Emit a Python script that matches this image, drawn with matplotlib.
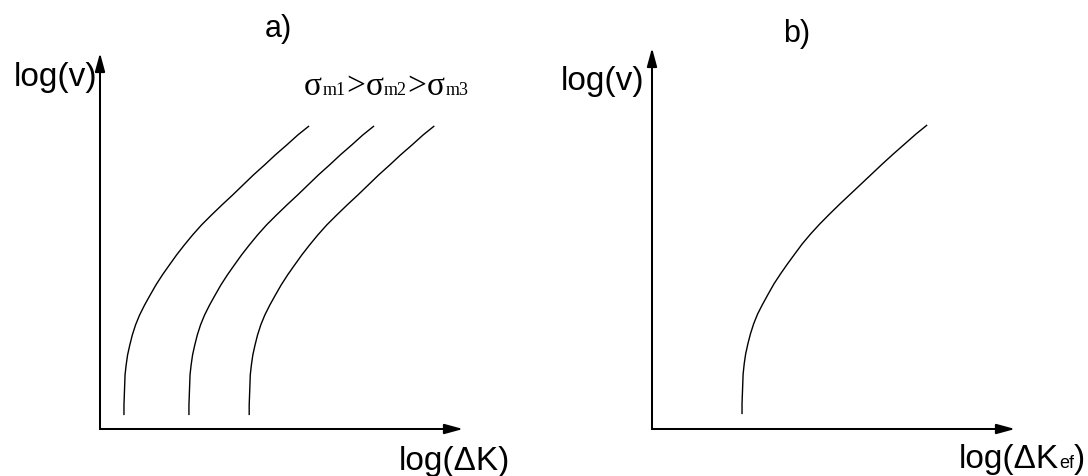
import matplotlib
matplotlib.use("Agg")
import matplotlib.pyplot as plt

# ---- Data (log units, arbitrary scale 0..10 on both axes) --------------------
# a) growth-rate curves for three mean stresses
A_LOGV = [0.37, 0.64, 0.90, 1.17, 1.44, 1.70, 1.97, 2.23, 2.50, 2.77,
          3.03, 3.30, 3.56, 3.83, 4.10, 4.36, 4.63, 4.89, 5.16, 5.43,
          5.69, 5.96, 6.22, 6.49, 6.76, 7.02, 7.29, 7.55, 7.82, 8.06]
A_LOGDK_1 = [0.66, 0.66, 0.67, 0.68, 0.69, 0.72, 0.76, 0.82, 0.89, 0.98,
             1.09, 1.23, 1.38, 1.54, 1.72, 1.91, 2.11, 2.32, 2.55, 2.80,
             3.07, 3.36, 3.65, 3.94, 4.23, 4.53, 4.83, 5.14, 5.45, 5.76]
A_LOGDK_2 = [2.45, 2.45, 2.46, 2.47, 2.48, 2.51, 2.55, 2.61, 2.68, 2.77,
             2.88, 3.02, 3.17, 3.33, 3.51, 3.70, 3.90, 4.11, 4.34, 4.59,
             4.86, 5.15, 5.44, 5.73, 6.02, 6.32, 6.62, 6.93, 7.24, 7.55]
A_LOGDK_3 = [4.11, 4.11, 4.12, 4.13, 4.14, 4.17, 4.21, 4.27, 4.34, 4.43,
             4.54, 4.68, 4.83, 4.99, 5.17, 5.36, 5.56, 5.77, 6.00, 6.25,
             6.52, 6.81, 7.10, 7.39, 7.68, 7.98, 8.28, 8.59, 8.90, 9.21]

# b) single curve against the effective range
B_LOGV = [0.39, 0.66, 0.92, 1.18, 1.44, 1.71, 1.97, 2.23, 2.49, 2.76,
          3.02, 3.28, 3.54, 3.81, 4.07, 4.33, 4.59, 4.86, 5.12, 5.38,
          5.64, 5.91, 6.17, 6.43, 6.69, 6.96, 7.22, 7.48, 7.74, 7.98]
B_LOGDK = [2.48, 2.48, 2.49, 2.50, 2.51, 2.54, 2.58, 2.64, 2.71, 2.80,
           2.91, 3.05, 3.20, 3.36, 3.54, 3.73, 3.93, 4.14, 4.37, 4.62,
           4.89, 5.18, 5.47, 5.76, 6.05, 6.35, 6.65, 6.96, 7.27, 7.58]

# ---- Figure ------------------------------------------------------------------
W, H = 1088, 476
fig = plt.figure(figsize=(W / 100, H / 100), dpi=100)
SANS = "Liberation Sans"
SERIF = "Liberation Serif"

AX_LW = 1.45
CURVE_LW = 1.0


def px(x, y):
    """pixel position (from top-left) -> figure fraction"""
    return x / W, 1 - y / H


def make_panel(left, top, right, bottom):
    x0, y0 = px(left, bottom)
    x1, y1 = px(right, top)
    ax = fig.add_axes([x0, y0, x1 - x0, y1 - y0])
    ax.set_xlim(0, 10)
    ax.set_ylim(0, 10)
    ax.axis("off")
    arrow = dict(arrowstyle="-|>,head_length=1.1,head_width=0.3",
                 color="black", lw=AX_LW, shrinkA=0, shrinkB=0,
                 mutation_scale=10, capstyle="projecting")
    ax.annotate("", xy=(1, 0), xytext=(0, 0), xycoords="axes fraction",
                textcoords="axes fraction", arrowprops=arrow)
    ax.annotate("", xy=(0, 1), xytext=(0, 0), xycoords="axes fraction",
                textcoords="axes fraction", arrowprops=arrow)
    return ax


ax_a = make_panel(100, 53, 463, 429)
ax_b = make_panel(652, 48, 1015, 429)

for xs in (A_LOGDK_1, A_LOGDK_2, A_LOGDK_3):
    ax_a.plot(xs, A_LOGV, color="black", lw=CURVE_LW, solid_capstyle="butt")
ax_b.plot(B_LOGDK, B_LOGV, color="black", lw=CURVE_LW, solid_capstyle="butt")

# ---- Labels ------------------------------------------------------------------
renderer = fig.canvas.get_renderer()


def run(x, y, pieces, gap=0.0):
    """place text pieces side by side on one baseline, starting at pixel x"""
    for s, size, fam in pieces:
        t = fig.text(*px(x, y), s, fontsize=size, family=fam,
                     ha="left", va="baseline")
        x += t.get_window_extent(renderer).width + gap


fig.text(*px(278, 37), "a)", fontsize=22, family=SANS, ha="center", va="baseline")
fig.text(*px(797, 42), "b)", fontsize=22, family=SANS, ha="center", va="baseline")

fig.text(*px(97, 86), "log(v)", fontsize=24, family=SANS, ha="right", va="baseline")
fig.text(*px(644, 90), "log(v)", fontsize=24, family=SANS, ha="right", va="baseline")

fig.text(*px(510, 470), "log(ΔK)", fontsize=24, family=SANS, ha="right", va="baseline")
run(959, 468, [("log(ΔK", 24, SANS), ("ef", 13, SANS), (")", 24, SANS)])

SIG, SUB = 24, 13
run(304, 95, [("σ", SIG, SERIF), ("m1", SUB, SERIF), (">", SIG, SERIF),
              ("σ", SIG, SERIF), ("m2", SUB, SERIF), (">", SIG, SERIF),
              ("σ", SIG, SERIF), ("m3", SUB, SERIF)], gap=0.5)

fig.savefig("out.png", dpi=100, facecolor="white")
